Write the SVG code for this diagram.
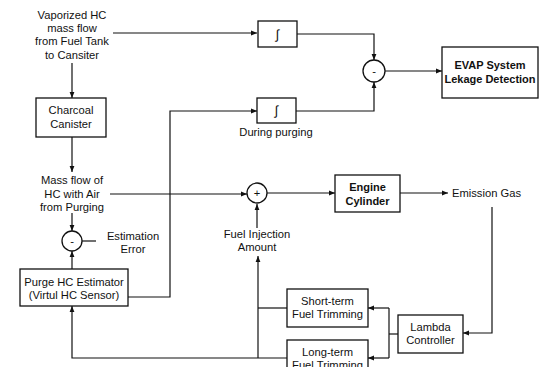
<svg xmlns="http://www.w3.org/2000/svg" width="540" height="367" viewBox="0 0 540 367">
<defs>
<marker id="ah" viewBox="0 0 10 10" refX="10" refY="5" markerWidth="6" markerHeight="6" markerUnits="userSpaceOnUse" orient="auto">
<path d="M0,1 L10,5 L0,9 Z" fill="#111"/>
</marker>
<style>
.box{fill:#fff;stroke:#111;stroke-width:1.3}
.ln{fill:none;stroke:#111;stroke-width:1.2}
text{font-family:"Liberation Sans",Arial,sans-serif;font-size:11.2px;fill:#111;text-anchor:middle}
.b{font-weight:bold;font-size:11px}
.sym{font-size:13px}
</style>
</defs>
<rect width="540" height="367" fill="#fff"/>
<g id="connectors">
<path class="ln" d="M113,33 H257" marker-end="url(#ah)"/>
<path class="ln" d="M297,34 H374 V60" marker-end="url(#ah)"/>
<path class="ln" d="M296,111 H374 V82" marker-end="url(#ah)"/>
<path class="ln" d="M385,71 H442" marker-end="url(#ah)"/>
<path class="ln" d="M72,63 V98" marker-end="url(#ah)"/>
<path class="ln" d="M72,137 V172" marker-end="url(#ah)"/>
<path class="ln" d="M110,194 H247" marker-end="url(#ah)"/>
<path class="ln" d="M72,213 V231" marker-end="url(#ah)"/>
<path class="ln" d="M72,269 V251" marker-end="url(#ah)"/>
<path class="ln" d="M82,241 H96"/>
<path class="ln" d="M128,297 H170 V111 H257" marker-end="url(#ah)"/>
<path class="ln" d="M257,228 V204" marker-end="url(#ah)"/>
<path class="ln" d="M267,193 H335" marker-end="url(#ah)"/>
<path class="ln" d="M400,193 H448" marker-end="url(#ah)"/>
<path class="ln" d="M492,207 V333 H463" marker-end="url(#ah)"/>
<path class="ln" d="M398,334 H389"/>
<path class="ln" d="M389,308 V358"/>
<path class="ln" d="M389,308 H368" marker-end="url(#ah)"/>
<path class="ln" d="M389,358 H368" marker-end="url(#ah)"/>
<path class="ln" d="M287,308 H258"/>
<path class="ln" d="M287,358 H72 V306" marker-end="url(#ah)"/>
<path class="ln" d="M258,358 V256" marker-end="url(#ah)"/>
</g>
<g id="src-text">
<text x="72" y="19">Vaporized HC</text>
<text x="72" y="32">mass flow</text>
<text x="72" y="45">from Fuel Tank</text>
<text x="72" y="59">to Cansiter</text>
</g>
<g id="int1">
<rect class="box" x="258" y="21" width="39" height="26"/>
<text class="sym" x="277.5" y="39">∫</text>
</g>
<g id="int2">
<rect class="box" x="257" y="98" width="39" height="25"/>
<text class="sym" x="276.5" y="115">∫</text>
<text x="276" y="136">During purging</text>
</g>
<g id="sub1">
<circle class="box" cx="374" cy="71" r="11"/>
<text x="374" y="75">-</text>
</g>
<g id="evap">
<rect class="box" x="442" y="47" width="96" height="51"/>
<text class="b" x="490" y="69">EVAP System</text>
<text class="b" x="490" y="83">Lekage Detection</text>
</g>
<g id="canister">
<rect class="box" x="36" y="98" width="70" height="39"/>
<text x="71" y="114">Charcoal</text>
<text x="71" y="128">Canister</text>
</g>
<g id="massflow">
<text x="72" y="184">Mass flow of</text>
<text x="72" y="198">HC with Air</text>
<text x="72" y="211">from Purging</text>
</g>
<g id="sub2">
<circle class="box" cx="72" cy="241" r="10"/>
<text x="72" y="245">-</text>
<text x="133" y="240">Estimation</text>
<text x="133" y="253">Error</text>
</g>
<g id="estimator">
<rect class="box" x="20" y="269" width="108" height="37"/>
<text x="74" y="286">Purge HC Estimator</text>
<text x="74" y="299">(Virtul HC Sensor)</text>
</g>
<g id="sum">
<circle class="box" cx="257" cy="193" r="10"/>
<text x="257" y="197">+</text>
<text x="257" y="238">Fuel Injection</text>
<text x="257" y="251">Amount</text>
</g>
<g id="engine">
<rect class="box" x="335" y="175" width="65" height="37"/>
<text class="b" x="367.5" y="191">Engine</text>
<text class="b" x="367.5" y="205">Cylinder</text>
</g>
<g id="emission">
<text x="452" y="197" style="text-anchor:start">Emission Gas</text>
</g>
<g id="lambda">
<rect class="box" x="398" y="315" width="65" height="38"/>
<text x="430.5" y="331">Lambda</text>
<text x="430.5" y="344">Controller</text>
</g>
<g id="short">
<rect class="box" x="287" y="289" width="81" height="38"/>
<text x="327.5" y="305">Short-term</text>
<text x="327.5" y="318">Fuel Trimming</text>
</g>
<g id="long">
<rect class="box" x="287" y="340" width="81" height="38"/>
<text x="327.5" y="356">Long-term</text>
<text x="327.5" y="369">Fuel Trimming</text>
</g>
</svg>
